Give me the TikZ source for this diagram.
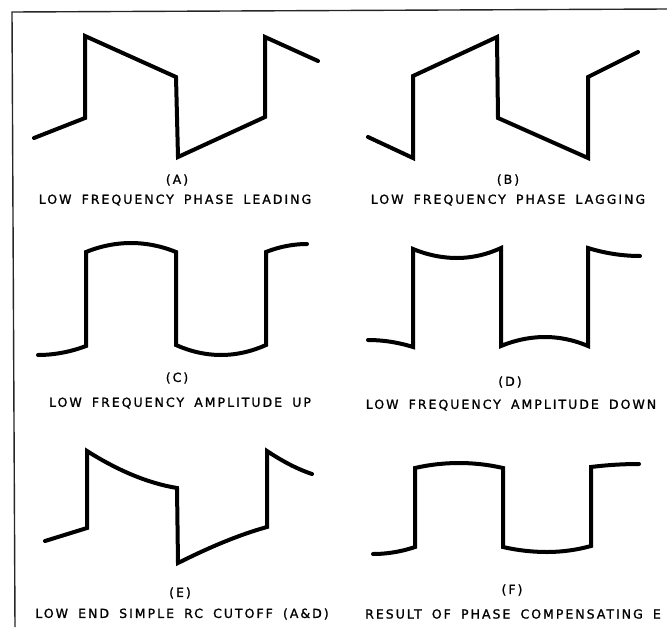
\documentclass[tikz,border=0pt]{standalone}
\usepackage{fontspec}
\newfontfamily\labfont{DejaVu Sans}[LetterSpace=16,WordSpace=1.7,FakeBold=1.2]
\begin{document}
\begin{tikzpicture}[x=1pt,y=-1pt,
  wave/.style={line width=4pt,line cap=round,line join=miter,black},
  frameline/.style={line width=1.4pt,black!85},
  letter/.style={font=\labfont\fontsize{12.5}{14}\selectfont,inner sep=0pt,anchor=center},
  caption/.style={font=\labfont\fontsize{12.5}{14}\selectfont,inner sep=0pt,anchor=center}]
\useasboundingbox (0,0) rectangle (667,627);
% frame
\draw[frameline] (15,627) -- (12,12) -- (667,9);

% (A) phase leading
\draw[wave] (34,138) -- (85,118) -- (85,36) -- (176,77) -- (178,157) -- (265,117) -- (265,37) -- (318,61);
\node[letter] (la) at (177,180) {(A)};
\node[caption] (ca) at (175,200) {LOW FREQUENCY PHASE LEADING};

% (B) phase lagging
\draw[wave] (368,137) -- (413,158) -- (413,76) -- (497,37) -- (498,118) -- (588,158) -- (588,77) -- (638,52);
\node[letter] (lb) at (508,180) {(B)};
\node[caption] (cb) at (508,200) {LOW FREQUENCY PHASE LAGGING};

% (C) amplitude up
\draw[wave] (38,355) parabola (86,346) -- (86,252) parabola bend (131,243) (176,252)
  -- (176,345) parabola bend (221,355) (266,345) -- (266,252) parabola[bend at end] (307,244);
\node[letter] (lc) at (177,378) {(C)};
\node[caption] (cc) at (180,403) {LOW FREQUENCY AMPLITUDE UP};

% (D) amplitude down
\draw[wave] (368,340) parabola (413,347) -- (413,249) parabola bend (457,258) (501,248)
  -- (501,346) parabola bend (545,337) (588,346) -- (588,248) parabola[bend at end] (640,256);
\node[letter] (ld) at (510,382) {(D)};
\node[caption] (cd) at (511,405) {LOW FREQUENCY AMPLITUDE DOWN};

% (E) low end simple RC cutoff
\draw[wave] (45,541) -- (87,528) -- (87,451) .. controls (117,470) and (147,483) .. (177,488)
  -- (178,563) .. controls (208,548) and (238,535) .. (267,527)
  -- (267,451) .. controls (282,461) and (297,469) .. (312,474);
\node[letter] (le) at (180,593) {(E)};
\node[caption] (ce) at (182,614) {LOW END SIMPLE RC CUTOFF (A\&D)};

% (F) result of phase compensating E
\draw[wave] (373,554) parabola (415,547) -- (415,468) parabola bend (459,463) (503,468)
  -- (503,547) parabola bend (547,552) (591,546) -- (591,467) parabola[bend at end] (639,464);
\node[letter] (lf) at (512,590) {(F)};
\node[caption] (cf) at (513,614) {RESULT OF PHASE COMPENSATING E};
\end{tikzpicture}
\end{document}
